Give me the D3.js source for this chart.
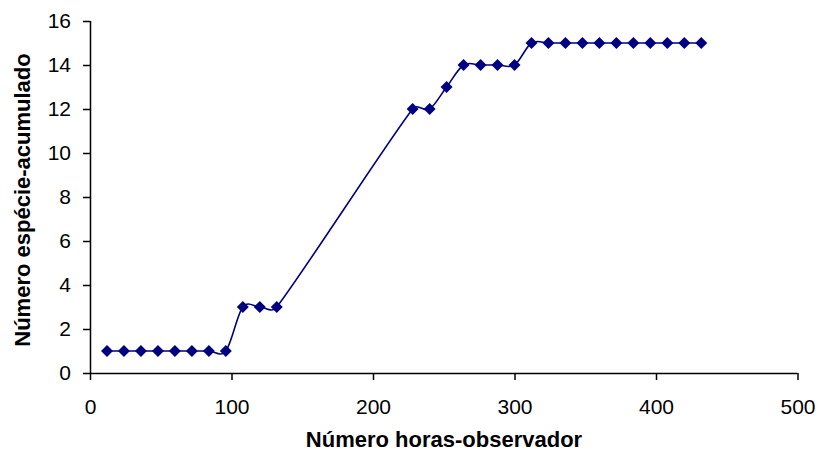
<!DOCTYPE html>
<html><head><meta charset="utf-8">
<script src="https://cdn.jsdelivr.net/npm/d3@7"></script>
<style>body{margin:0;background:#fff}svg{display:block}</style>
</head><body>
<svg id="c" width="830" height="461"></svg>
<script>
const hours = [12,24,36,48,60,72,84,96,108,120,132,228,240,252,264,276,288,300,312,324,336,348,360,372,384,396,408,420,432];
const species = [1,1,1,1,1,1,1,1,3,3,3,12,12,13,14,14,14,14,15,15,15,15,15,15,15,15,15,15,15];
const xTicks = [0,100,200,300,400,500];
const yTicks = [0,2,4,6,8,10,12,14,16];
const xTitle = "Número horas-observador";
const yTitle = "Número espécie-acumulado";

const svg = d3.select("#c");
const x = d3.scaleLinear().domain([0,500]).range([90,797.5]);
const y = d3.scaleLinear().domain([0,16]).range([373,21]);
const font = "'Liberation Sans', Arial, sans-serif";

const gx = svg.append("g").attr("transform","translate(0,373)")
  .call(d3.axisBottom(x).tickValues(xTicks).tickSize(7).tickPadding(19).tickFormat(d3.format("d")));
const gy = svg.append("g").attr("transform","translate(90,0)")
  .call(d3.axisLeft(y).tickValues(yTicks).tickSize(7).tickPadding(12).tickFormat(d3.format("d")));
[gx,gy].forEach(g=>{
  g.select(".domain").attr("stroke","#000").attr("stroke-width",1.5);
  g.selectAll(".tick line").attr("stroke","#000").attr("stroke-width",1.5);
  g.selectAll("text").attr("font-family",font).attr("font-size",21).attr("fill","#000");
});
gy.select(".domain").attr("d","M0.5,21V373.5");
gx.select(".domain").attr("d","M90,0.5H797.5");

const pts = hours.map((h,i)=>[h,species[i]]);
// Excel-like smoothed line: cardinal bezier with tangents clamped to half the segment length
function smoothPath(data){
  const P = data.map(d=>[x(d[0]), y(d[1])]);
  const p = d3.path();
  p.moveTo(P[0][0], P[0][1]);
  const tan = i => {
    const a = P[Math.max(0,i-1)], b = P[Math.min(P.length-1,i+1)];
    return [(b[0]-a[0])/6, (b[1]-a[1])/6];
  };
  const clamp = (t, len) => {
    const l = Math.hypot(t[0], t[1]), m = 0.5*len;
    return l > m && l > 0 ? [t[0]*m/l, t[1]*m/l] : t;
  };
  for (let i=0;i<P.length-1;i++){
    const a=P[i], b=P[i+1];
    const len = Math.hypot(b[0]-a[0], b[1]-a[1]);
    const t1 = clamp(tan(i), len), t2 = clamp(tan(i+1), len);
    p.bezierCurveTo(a[0]+t1[0], a[1]+t1[1], b[0]-t2[0], b[1]-t2[1], b[0], b[1]);
  }
  return p.toString();
}
svg.append("path")
  .attr("fill","none").attr("stroke","#000080").attr("stroke-width",1.6)
  .attr("d", smoothPath(pts));

svg.append("g").selectAll("path").data(pts).join("path")
  .attr("transform",d=>`translate(${x(d[0])},${y(d[1])})`)
  .attr("d","M0,-6L6,0L0,6L-6,0Z")
  .attr("fill","#000080");

svg.append("text").attr("x",444).attr("y",447).attr("text-anchor","middle")
  .attr("font-family",font).attr("font-weight","bold").attr("font-size",22).text(xTitle);
svg.append("text").attr("transform","translate(30,200) rotate(-90)").attr("text-anchor","middle")
  .attr("font-family",font).attr("font-weight","bold").attr("font-size",22).text(yTitle);
</script>
</body></html>
